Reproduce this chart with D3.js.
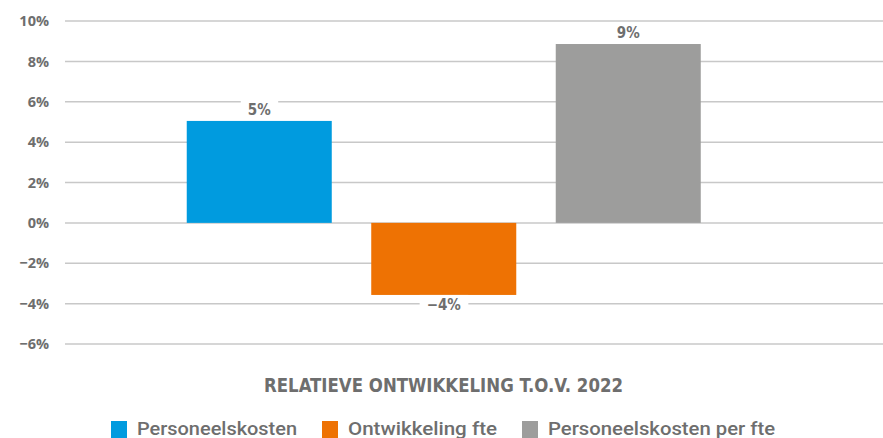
<!DOCTYPE html>
<html>
<head>
<meta charset="utf-8">
<script src="https://cdn.jsdelivr.net/npm/d3@7"></script>
<style>
  html, body { margin: 0; padding: 0; background: #fff; }
  svg { display: block; }
  text { font-family: "DejaVu Sans Condensed", "DejaVu Sans", sans-serif; fill: #6e6e6e; }
</style>
</head>
<body>
<svg id="chart" width="883" height="438"></svg>
<script>
const series = ["Personeelskosten", "Ontwikkeling fte", "Personeelskosten per fte"];
const values = [5.05, -3.57, 8.86];
const colors = ["#009bdf", "#ee7203", "#9d9d9c"];
const yTicks = [-6, -4, -2, 0, 2, 4, 6, 8, 10];
const title = "RELATIEVE ONTWIKKELING T.O.V. 2022";

const svg = d3.select("#chart");
const fmt = v => (v < 0 ? "\u2212" : "") + Math.abs(Math.round(v)) + "%";

const y = d3.scaleLinear().domain([-6, 10]).range([344, 21]);
const x = d3.scaleBand().domain(series).range([167, 720.5]).paddingInner(0.214).paddingOuter(0.107);

// gridlines
svg.append("g").selectAll("line").data(yTicks).join("line")
  .attr("x1", 65).attr("x2", 883)
  .attr("y1", d => y(d)).attr("y2", d => y(d))
  .attr("stroke", "#c8c8c8").attr("stroke-width", 1.5);

// y axis labels
const yAxis = d3.axisLeft(y).tickValues(yTicks).tickSize(0).tickPadding(0).tickFormat(fmt);
const ga = svg.append("g").attr("transform", "translate(49,0)").call(yAxis);
ga.select(".domain").remove();
ga.selectAll("text").attr("font-size", 14.5).attr("font-weight", "bold")
  .style("font-family", "'Open Sans', sans-serif").attr("fill", "#6e6e6e");

// bars
svg.append("g").selectAll("rect").data(series).join("rect")
  .attr("x", d => x(d))
  .attr("width", x.bandwidth())
  .attr("y", (d, i) => y(Math.max(0, values[i])))
  .attr("height", (d, i) => Math.abs(y(values[i]) - y(0)))
  .attr("fill", (d, i) => colors[i]);

// data labels
const lg = svg.append("g");
series.forEach((s, i) => {
  const v = values[i];
  const cx = x(s) + x.bandwidth() / 2;
  const by = v >= 0 ? y(v) - 6 : y(v) + 15;
  const t = lg.append("text")
    .attr("x", cx).attr("y", by)
    .attr("text-anchor", "middle")
    .attr("font-size", 15).attr("font-weight", "bold")
    .text(fmt(v));
  const bb = t.node().getBBox();
  lg.insert("rect", "text")
    .attr("x", bb.x - 7).attr("y", bb.y - 1)
    .attr("width", bb.width + 14).attr("height", bb.height + 2)
    .attr("fill", "#fff");
});

// title
svg.append("text")
  .attr("x", 264).attr("y", 392)
  .attr("font-size", 19).attr("font-weight", "bold")
  .attr("textLength", 359).attr("lengthAdjust", "spacingAndGlyphs")
  .text(title);

// legend
const legX = [111, 322, 522];
const legTextW = [160, 149, 227];
const leg = svg.append("g");
series.forEach((s, i) => {
  leg.append("rect").attr("x", legX[i]).attr("y", 421).attr("width", 16).attr("height", 17).attr("fill", colors[i]);
  leg.append("text").attr("x", legX[i] + 26).attr("y", 435)
    .attr("font-size", 18).attr("font-weight", 500)
    .style("font-family", "Roboto, sans-serif")
    .attr("textLength", legTextW[i]).attr("lengthAdjust", "spacingAndGlyphs")
    .text(s);
});
</script>
</body>
</html>
